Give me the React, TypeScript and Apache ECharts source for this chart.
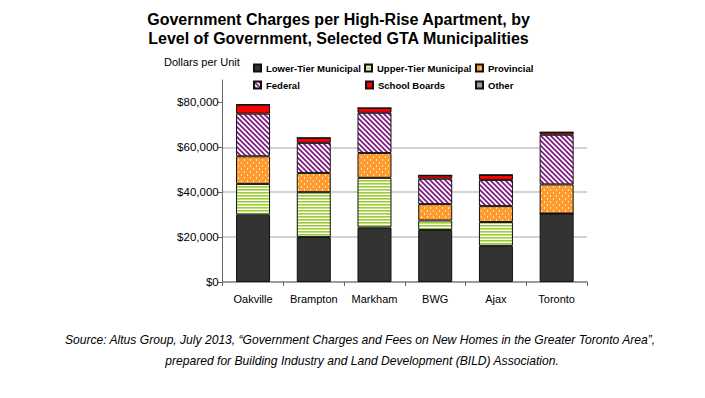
import React, { useEffect, useRef } from "react";
import * as echarts from "echarts";

const categories = ["Oakville", "Brampton", "Markham", "BWG", "Ajax", "Toronto"];
const lowerTier = [30000, 20000, 24300, 23200, 16100, 30500];
const upperTier = [13700, 20000, 22100, 4200, 10600, 0];
const provincial = [12300, 8600, 11100, 7300, 7100, 13000];
const federal = [19000, 13400, 17900, 11300, 11700, 22100];
const schoolBoards = [4000, 2200, 2100, 1500, 2200, 1100];
const other = [0, 0, 0, 0, 0, 0];
const yTicks = [0, 20000, 40000, 60000, 80000];

const FONT = "'Liberation Sans', Arial, Helvetica, sans-serif";

function svgPattern(svg: string, w: number, h: number) {
  return {
    image:
      "data:image/svg+xml;charset=utf-8," +
      encodeURIComponent(
        `<svg xmlns='http://www.w3.org/2000/svg' width='${w}' height='${h}'>${svg}</svg>`
      ),
    imageWidth: w,
    imageHeight: h,
    repeat: "repeat",
  };
}

const upperPattern = svgPattern(
  "<rect width='4' height='3' fill='#ffffff'/><rect width='4' height='1.6' fill='#9acd32'/>",
  4,
  3
);
const provPattern = svgPattern(
  "<rect width='6' height='6' fill='#ff9a2e'/><rect x='1' y='0' width='1' height='2' fill='#ffe2b0'/><rect x='4' y='3' width='1' height='2' fill='#ffe2b0'/>",
  6,
  6
);
const fedPattern = svgPattern(
  "<rect width='5' height='5' fill='#ffffff'/><path d='M-1,-1 L6,6 M-1,4 L1,6 M4,-1 L6,1' stroke='#7f1d84' stroke-width='1.8' fill='none'/>",
  5,
  5
);

export default function App() {
  const ref = useRef<HTMLDivElement>(null);
  useEffect(() => {
    if (!ref.current) return;
    const chart = echarts.init(ref.current, undefined, { renderer: "svg" });
    const seriesDefs = [
      { name: "Lower-Tier Municipal", data: lowerTier, color: "#333333" },
      { name: "Upper-Tier Municipal", data: upperTier, color: upperPattern },
      { name: "Provincial", data: provincial, color: provPattern },
      { name: "Federal", data: federal, color: fedPattern },
      { name: "School Boards", data: schoolBoards, color: "#ff0000" },
      { name: "Other", data: other, color: "#999999" },
    ];
    const legendPos = [
      [253, 63],
      [364, 63],
      [475, 63],
      [253, 80],
      [365, 80],
      [475, 80],
    ];
    const legends = seriesDefs.map((s, i) => ({
      data: [s.name],
      left: legendPos[i][0],
      top: legendPos[i][1],
      width: 140,
      padding: 0,
      itemWidth: 7,
      itemHeight: 7,
      itemGap: 0,
      icon: "rect",
      selectedMode: false,
      textStyle: {
        fontFamily: FONT,
        fontSize: 9.5,
        fontWeight: "bold",
        color: "#000",
        overflow: "none",
      },
    }));
    chart.setOption({
      animation: false,
      backgroundColor: "#ffffff",
      legend: legends,
      grid: { left: 222.7, right: 118, top: 80, bottom: 116, containLabel: false },
      xAxis: {
        type: "category",
        data: categories,
        axisLine: { lineStyle: { color: "#8a8a8a", width: 1.5 } },
        axisTick: { show: true, alignWithLabel: false, length: 4, lineStyle: { color: "#666" } },
        axisLabel: { interval: 0, fontFamily: FONT, fontSize: 11, color: "#000", margin: 11 },
      },
      yAxis: {
        type: "value",
        min: 0,
        max: 90000,
        axisLine: { show: true, lineStyle: { color: "#666", width: 1 } },
        axisTick: { show: true, length: 5, customValues: yTicks, lineStyle: { color: "#666" } },
        axisLabel: {
          customValues: yTicks,
          fontFamily: FONT,
          fontSize: 11.5,
          color: "#000",
          margin: 4,
          formatter: (v: number) => "$" + v.toLocaleString("en-US"),
        },
        splitLine: { show: true, showMaxLine: false, lineStyle: { color: "#c4c4c4", width: 1.5 } },
      },
      series: seriesDefs.map((s) => ({
        name: s.name,
        type: "bar",
        stack: "total",
        barWidth: 34,
        data: s.data,
        itemStyle: { color: s.color, borderColor: "#111", borderWidth: 1 },
      })),
      graphic: [
        {
          type: "text",
          x: 338.5,
          y: 10,
          style: {
            text: "Government Charges per High-Rise Apartment, by\nLevel of Government, Selected GTA Municipalities",
            font: `bold 16px ${FONT}`,
            fill: "#000",
            align: "center",
            lineHeight: 19,
          },
        },
        {
          type: "text",
          x: 164,
          y: 56,
          style: { text: "Dollars per Unit", font: `11px ${FONT}`, fill: "#000" },
        },
        {
          type: "text",
          x: 360,
          y: 334,
          style: {
            text: "Source: Altus Group, July 2013, “Government Charges and Fees on New Homes in the Greater Toronto Area”,",
            font: `italic 12.1px ${FONT}`,
            fill: "#000",
            align: "center",
          },
        },
        {
          type: "text",
          x: 362,
          y: 355,
          style: {
            text: "prepared for Building Industry and Land Development (BILD) Association.",
            font: `italic 12.1px ${FONT}`,
            fill: "#000",
            align: "center",
          },
        },
      ],
    });
    return () => chart.dispose();
  }, []);
  return (
    <div
      ref={ref}
      style={{ position: "fixed", left: 0, top: 0, width: 705, height: 398 }}
    />
  );
}
